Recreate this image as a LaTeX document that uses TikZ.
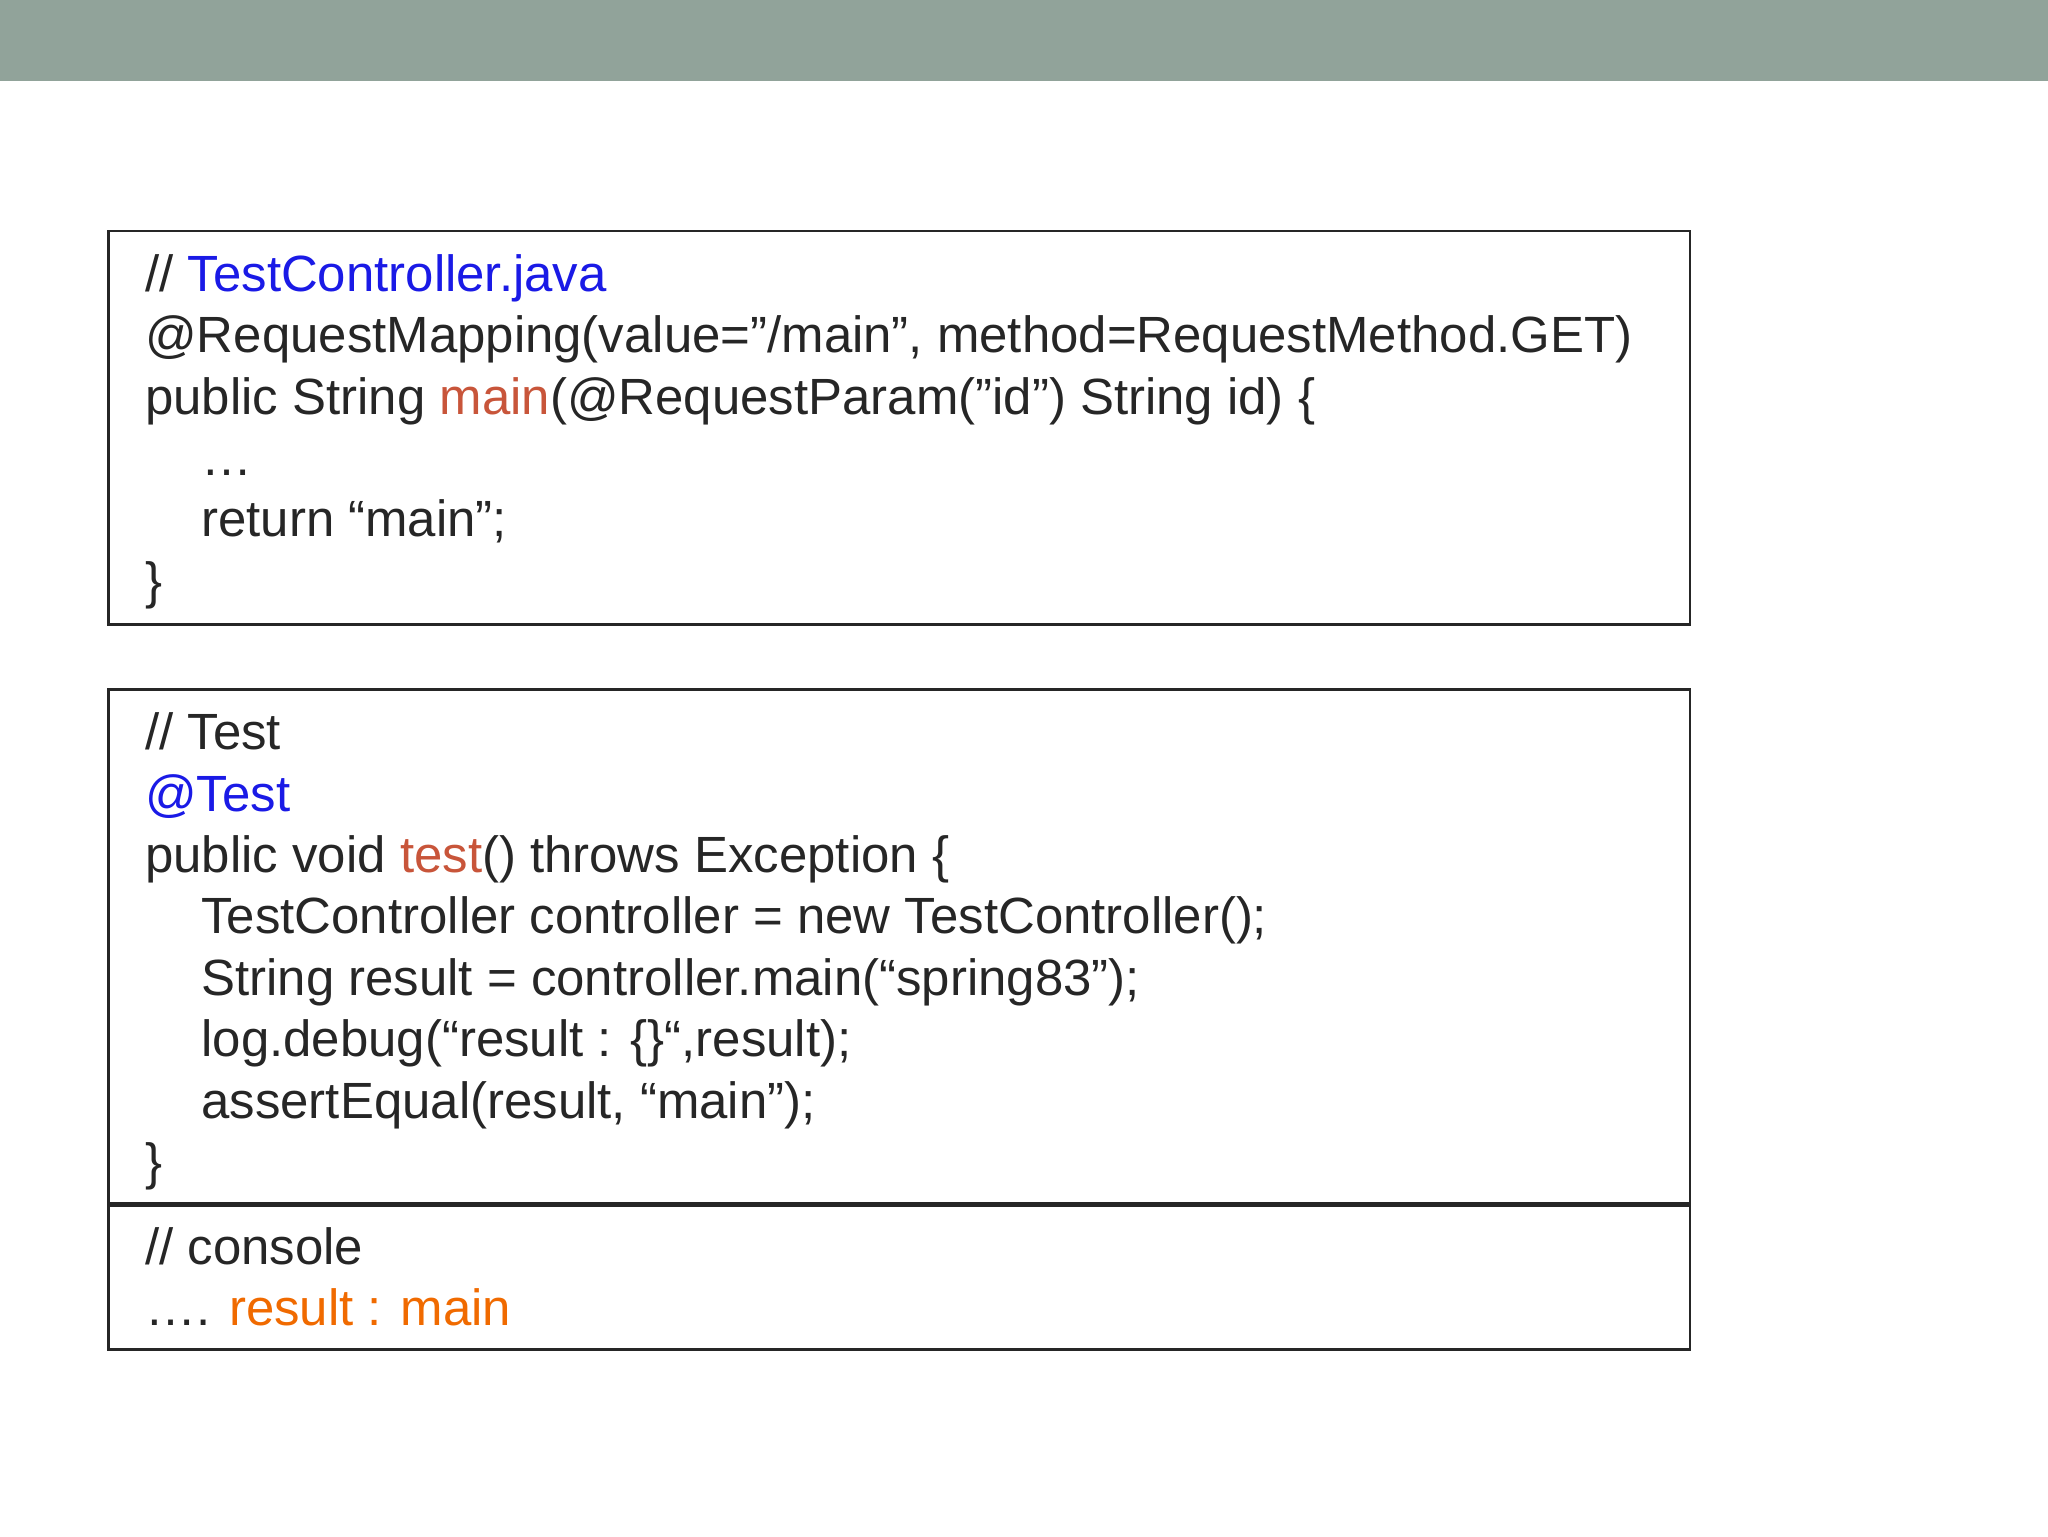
\documentclass[tikz,border=0pt]{standalone}
\usepackage{fontspec}
\setmainfont{Liberation Sans}[Ligatures=ResetAll]
\definecolor{bar}{HTML}{91A39A}
\definecolor{kblue}{HTML}{1A1AE6}
\definecolor{kred}{HTML}{C8553A}
\definecolor{korange}{HTML}{F06A00}
\tikzset{ln/.style={anchor=base west,inner sep=0pt,font=\fontsize{39}{47}\selectfont,text=black!85}, box/.style={draw=black!85,line width=2pt}}
\begin{document}
\begin{tikzpicture}[x=1pt,y=-1pt]
\useasboundingbox (0,0) rectangle (1568,1176);
\fill[bar] (0,0) rectangle (1568,62);
\draw[box] (83,177) rectangle (1294,478);
\draw[box] (83,528) rectangle (1294,1033);
\draw[draw=black!85,line width=3.5pt] (83,922) -- (1294,922);
\node[ln] (a1) at (111,223) {// \textcolor{kblue}{TestController.java}};
\node[ln] (a2) at (111,270) {@RequestMapping(value=”/main", method=RequestMethod.GET)};
\node[ln] (a3) at (111,317) {public String \textcolor{kred}{main}(@RequestParam(”id") String id) \{};
\node[ln] (a4) at (154,364) {…};
\node[ln] (a5) at (154,411) {return “main”;};
\node[ln] (a6) at (111,458) {\}};
\node[ln] (b1) at (111,574) {// Test};
\node[ln] (b2) at (111,621) {\textcolor{kblue}{@Test}};
\node[ln] (b3) at (111,668) {public void \textcolor{kred}{test}() throws Exception \{};
\node[ln] (b4) at (154,715) {TestController controller = new TestController();};
\node[ln] (b5) at (154,762) {String result = controller.main(“spring83”);};
\node[ln] (b6) at (154,809) {log.debug(“result : \{\}“,result);};
\node[ln] (b7) at (154,856) {assertEqual(result, “main”);};
\node[ln] (b8) at (111,903) {\}};
\node[ln] (c1) at (111,968) {// console};
\node[ln] (c2) at (111,1015) {…. \textcolor{korange}{result : main}};
\end{tikzpicture}
\end{document}
